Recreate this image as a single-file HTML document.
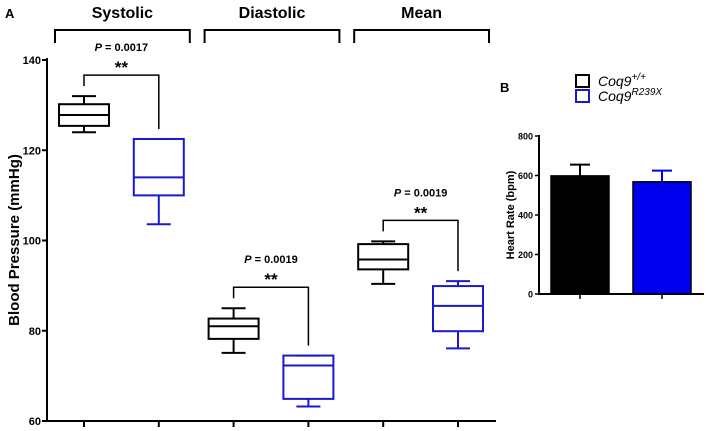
<!DOCTYPE html>
<html><head><meta charset="utf-8"><style>
body{margin:0;background:#fff;}
svg{display:block;font-family:"Liberation Sans",Arial,sans-serif;}
</style></head><body>
<svg id="c" width="708" height="431" viewBox="0 0 708 431">
<text x="5" y="18" font-size="13" font-weight="bold">A</text>
<text x="500" y="92" font-size="13" font-weight="bold">B</text>
<g id="pa"></g>
<g id="pb"></g>
</svg>
<script>
// Panel A data
const groups = ["Systolic","Diastolic","Mean"];
const wtMin = [124, 75.1, 90.4];
const wtQ1 = [125.4, 78.2, 93.6];
const wtMed = [127.8, 81, 95.8];
const wtQ3 = [130.2, 82.7, 99.2];
const wtMax = [132, 85, 99.8];
const mutMin = [103.6, 63.2, 76.1];
const mutQ1 = [110, 64.9, 79.9];
const mutMed = [114, 72.3, 85.5];
const mutQ3 = [122.5, 74.5, 89.9];
const mutMax = [122.5, 74.5, 91];
const pLabels = ["P = 0.0017","P = 0.0019","P = 0.0019"];
const yTicksA = [60,80,100,120,140];
// Panel B data
const hrCats = ["Coq9+/+","Coq9R239X"];
const hrMean = [598, 568];
const hrErr = [57, 57];
const yTicksB = [0,200,400,600,800];

const NS="http://www.w3.org/2000/svg";
function mk(parent,tag,attrs,txt){const e=document.createElementNS(NS,tag);for(const k in attrs)e.setAttribute(k,attrs[k]);if(txt!==undefined)e.textContent=txt;parent.appendChild(e);return e;}
const pa=document.getElementById('pa'), pb=document.getElementById('pb');
const yA=v=>421-(v-60)*4.5125;
const xA=i=>84+i*74.8;
const sw={stroke:'#000','stroke-width':2,fill:'none'};

let el=mk(pa,'line',{x1:47,y1:58,x2:47,y2:422,...sw});


el=mk(pa,'line',{x1:46,y1:421,x2:496,y2:421,...sw});


yTicksA.forEach(t=>{
  let l=mk(pa,'line',{x1:42,y1:yA(t),x2:47,y2:yA(t),...sw});
  
  
  let tx=mk(pa,'text',{x:41,y:yA(t)+4,'font-size':11,'font-weight':'bold','text-anchor':'end'},t);
  
  
});
for(let i=0;i<6;i++){
  let l=mk(pa,'line',{x1:xA(i),y1:421,x2:xA(i),y2:427,...sw});
  
  
}
let yl=mk(pa,'text',{x:0,y:0,'font-size':15,'font-weight':'bold','text-anchor':'middle',transform:'translate(19,240) rotate(-90)'},'Blood Pressure (mmHg)');



function box(i,mn,q1,md,q3,mx,col,name){
  const g=mk(pa,'g',{stroke:col,'stroke-width':2,fill:'none'});
  
  
  const x=xA(i),w=25,cw=12;
  mk(g,'rect',{x:x-w,y:yA(q3),width:2*w,height:yA(q1)-yA(q3)});
  mk(g,'line',{x1:x-w,x2:x+w,y1:yA(md),y2:yA(md)});
  mk(g,'line',{x1:x,x2:x,y1:yA(q3),y2:yA(mx)});
  mk(g,'line',{x1:x,x2:x,y1:yA(q1),y2:yA(mn)});
  mk(g,'line',{x1:x-cw,x2:x+cw,y1:yA(mx),y2:yA(mx)});
  mk(g,'line',{x1:x-cw,x2:x+cw,y1:yA(mn),y2:yA(mn)});
}
groups.forEach((gname,k)=>{
  box(2*k,wtMin[k],wtQ1[k],wtMed[k],wtQ3[k],wtMax[k],'#000','box-wt-'+gname.toLowerCase());
  box(2*k+1,mutMin[k],mutQ1[k],mutMed[k],mutQ3[k],mutMax[k],'#1a1acc','box-mut-'+gname.toLowerCase());
  const x1=xA(2*k)-29, x2=xA(2*k+1)+31;
  const gb=mk(pa,'path',{d:`M${x1} 43 V30 H${x2} V43`,...sw});
  
  
  const gt=mk(pa,'text',{x:(x1+x2)/2,y:18,'font-size':16,'font-weight':'bold','text-anchor':'middle'},gname);
  
  
  const by=yA(wtMax[k])-21;
  const sb=mk(pa,'path',{d:`M${xA(2*k)} ${yA(wtMax[k])-10} V${by} H${xA(2*k+1)} V${yA(mutMax[k])-10}`,stroke:'#000','stroke-width':1.5,fill:'none'});
  
  
  const st=mk(pa,'text',{x:(xA(2*k)+xA(2*k+1))/2,y:by-2,'font-size':17,'font-weight':'bold','text-anchor':'middle'},'**');
  
  
  const pt=mk(pa,'text',{x:(xA(2*k)+xA(2*k+1))/2,y:by-24,'font-size':11,'font-weight':'bold','text-anchor':'middle'});
  
  
  mk(pt,'tspan',{'font-style':'italic'},'P');
  mk(pt,'tspan',{},pLabels[k].slice(1));
});

// Panel B
const yB=v=>294-v*(158/800);
const xB=i=>580+i*82;
el=mk(pb,'line',{x1:539,y1:135,x2:539,y2:295,...sw});


el=mk(pb,'line',{x1:538,y1:294,x2:704,y2:294,...sw});


yTicksB.forEach(t=>{
  let l=mk(pb,'line',{x1:535,y1:yB(t),x2:539,y2:yB(t),stroke:'#000','stroke-width':1.5});
  
  
  let tx=mk(pb,'text',{x:533,y:yB(t)+3.5,'font-size':9,'font-weight':'bold','text-anchor':'end'},t);
  
  
});
yl=mk(pb,'text',{x:0,y:0,'font-size':11,'font-weight':'bold','text-anchor':'middle',transform:'translate(514,215) rotate(-90)'},'Heart Rate (bpm)');


const cols=['#000','#0000ee'];
hrCats.forEach((c,i)=>{
  const x=xB(i);
  const eb=mk(pb,'path',{d:`M${x} ${yB(hrMean[i])} V${yB(hrMean[i]+hrErr[i])} M${x-10} ${yB(hrMean[i]+hrErr[i])} H${x+10}`,stroke:cols[i],'stroke-width':2,fill:'none'});
  
  
  const r=mk(pb,'rect',{x:x-29,y:yB(hrMean[i]),width:58,height:294-yB(hrMean[i]),fill:cols[i],stroke:'#000','stroke-width':1.5});
  
  
  const t=mk(pb,'line',{x1:x,x2:x,y1:294,y2:299,stroke:'#000','stroke-width':1.5});
  
  
});
const leg=[["Coq9","+/+"],["Coq9","R239X"]];
leg.forEach((l,i)=>{
  const y=75+i*15;
  const s=mk(pb,'rect',{x:576,y:y,width:13,height:12,fill:'#fff',stroke:i===0?'#000':'#1a1acc','stroke-width':2});
  
  
  const t=mk(pb,'text',{x:598,y:y+11,'font-size':14,'font-style':'italic'});
  
  
  mk(t,'tspan',{},l[0]);
  mk(t,'tspan',{'font-size':10,dy:-6},l[1]);
});
</script>
</body></html>
